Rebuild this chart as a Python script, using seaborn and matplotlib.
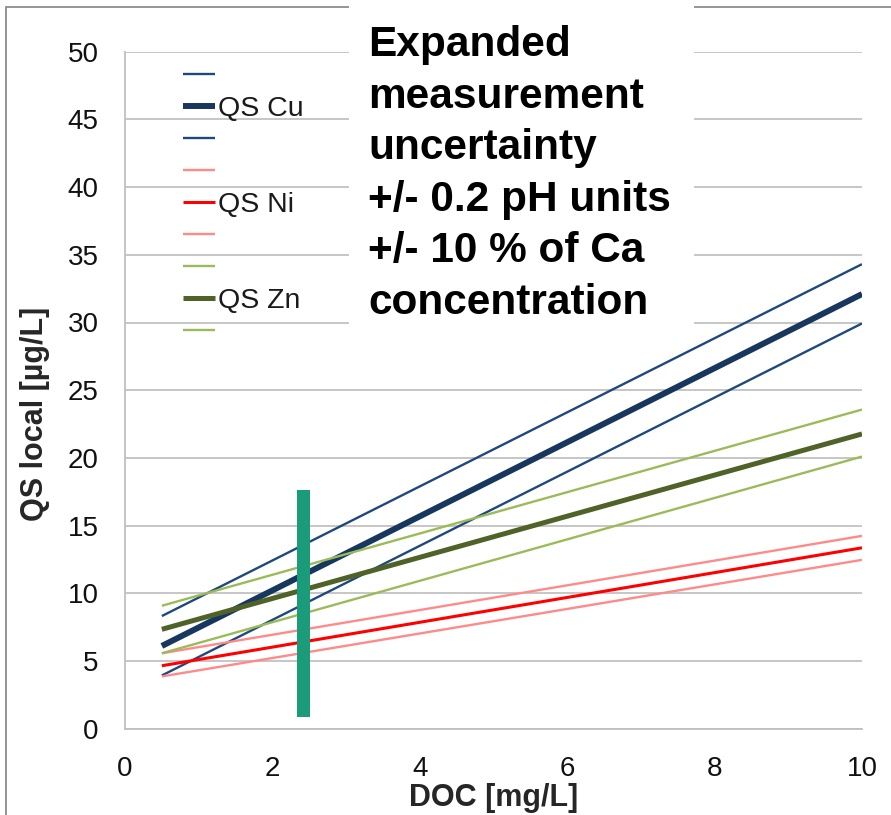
import matplotlib
matplotlib.use("Agg")
import matplotlib.pyplot as plt
import seaborn as sns
import pandas as pd
from matplotlib.patches import Rectangle

# ---------------- data ----------------
doc = [0.5, 10.0]
cu_upper = [8.32, 34.31]
cu_qs = [6.11, 32.10]
cu_lower = [3.93, 29.93]
ni_upper = [5.57, 14.24]
ni_qs = [4.65, 13.36]
ni_lower = [3.86, 12.47]
zn_upper = [9.08, 23.57]
zn_qs = [7.34, 21.77]
zn_lower = [5.57, 20.10]

series_names = ["Cu upper", "QS Cu", "Cu lower",
                "Ni upper", "QS Ni", "Ni lower",
                "Zn upper", "QS Zn", "Zn lower"]
series_values = [cu_upper, cu_qs, cu_lower,
                 ni_upper, ni_qs, ni_lower,
                 zn_upper, zn_qs, zn_lower]
legend_labels = ["", "QS Cu", "", "", "QS Ni", "", "", "QS Zn", ""]

bar_doc = 2.42
bar_low = 0.9
bar_high = 17.6

x_ticks = [0, 2, 4, 6, 8, 10]
y_ticks = [0, 5, 10, 15, 20, 25, 30, 35, 40, 45, 50]

note_lines = ["Expanded", "measurement", "uncertainty",
              "+/- 0.2 pH units", "+/- 10 % of Ca", "concentration"]

# ---------------- styles ----------------
colors = {"Cu upper": "#1F497D", "QS Cu": "#17375E", "Cu lower": "#1F497D",
          "Ni upper": "#FF8A8A", "QS Ni": "#FF0000", "Ni lower": "#FF8A8A",
          "Zn upper": "#9BBB59", "QS Zn": "#4F6228", "Zn lower": "#9BBB59"}
widths = {"Cu upper": 1.7, "QS Cu": 4.3, "Cu lower": 1.7,
          "Ni upper": 1.7, "QS Ni": 2.2, "Ni lower": 1.7,
          "Zn upper": 1.7, "QS Zn": 3.6, "Zn lower": 1.7}

sns.set_style("white")
plt.rcParams["font.family"] = ["Liberation Sans", "DejaVu Sans"]

W, H = 891, 815
fig = plt.figure(figsize=(W / 100, H / 100), dpi=100)
ax = fig.add_axes([125 / W, 1 - 728.7 / H, (862 - 125) / W, (728.7 - 51.7) / H])

rows = []
for name, vals in zip(series_names, series_values):
    for x, y in zip(doc, vals):
        rows.append({"series": name, "DOC": x, "QS": y})
df = pd.DataFrame(rows)

handles = []
for name in series_names:
    sub = df[df["series"] == name]
    sns.lineplot(data=sub, x="DOC", y="QS", color=colors[name],
                 linewidth=widths[name], ax=ax, legend=False,
                 solid_capstyle="butt", zorder=3)
    handles.append(ax.lines[-1])

ax.bar([bar_doc], [bar_high - bar_low], bottom=[bar_low], width=0.17,
       color="#1A9B7A", zorder=4, linewidth=0)

ax.set_xlim(0, 10)
ax.set_ylim(0, 50)
ax.set_xticks(x_ticks)
ax.set_yticks(y_ticks)
ax.yaxis.grid(True, color="#c6c6c6", linewidth=1.4)
ax.xaxis.grid(False)
ax.set_axisbelow(True)
for s in ["top", "right"]:
    ax.spines[s].set_visible(False)
for s in ["left", "bottom"]:
    ax.spines[s].set_color("#bfbfbf")
    ax.spines[s].set_linewidth(1.3)
ax.tick_params(axis="both", direction="out", length=6, width=1.2,
               color="#bfbfbf", labelsize=20, labelcolor="#111111")
ax.tick_params(axis="y", pad=13)
ax.tick_params(axis="x", pad=14)

ax.set_xlabel("DOC [mg/L]", fontsize=22, fontweight="bold")
ax.set_ylabel("QS local [µg/L]", fontsize=22, fontweight="bold")
ax.xaxis.set_label_coords(0.5, (728.7 - 783) / 677)
ax.yaxis.set_label_coords((50 - 125) / 737, (728.7 - 414) / 677)

ax.legend(handles, legend_labels, loc="upper left",
          bbox_to_anchor=(183 / W, 1 - 64 / H), bbox_transform=fig.transFigure,
          frameon=False, fontsize=20.5, handlelength=1.12, handletextpad=0.1,
          labelspacing=0.21, borderpad=0, borderaxespad=0,
          labelcolor="#1a1a1a")

# outer frame
fig.add_artist(Rectangle((6 / W, -0.05), 1.2, 1 - 7 / H + 0.05,
                         transform=fig.transFigure, fill=False,
                         edgecolor="#8c8c8c", linewidth=1.3, zorder=4))
# white text box
fig.add_artist(Rectangle((349 / W, 1 - 328 / H), 345 / W, 330 / H,
                         transform=fig.transFigure, facecolor="white",
                         edgecolor="none", zorder=5))
for i, line in enumerate(note_lines):
    fig.text(368 / W, 1 - (56 + i * 51.6) / H, line, ha="left", va="baseline",
             fontsize=30.5, fontweight="bold", color="black", zorder=6)

fig.savefig("out.png", dpi=100)
